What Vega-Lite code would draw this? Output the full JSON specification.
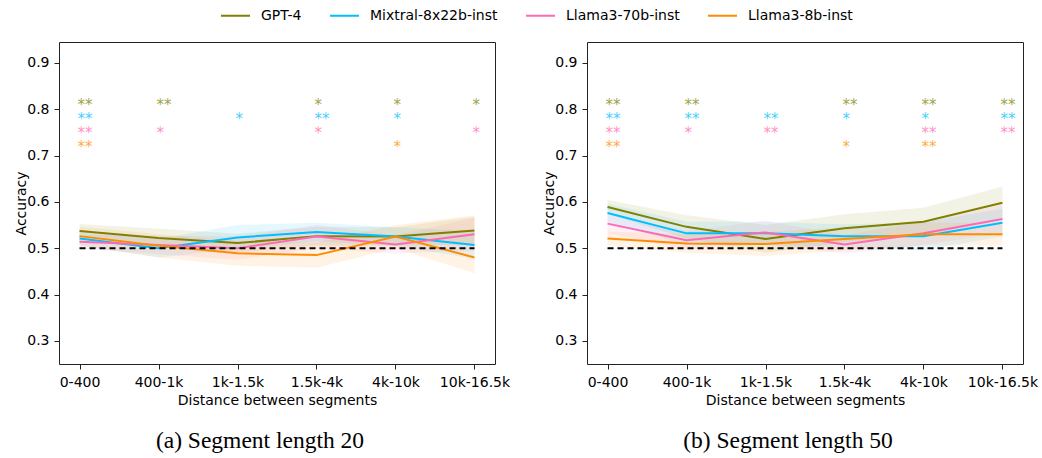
{
  "$schema": "https://vega.github.io/schema/vega-lite/v6.json",
  "background": "white",
  "padding": {"left": 14, "top": 0, "right": 5, "bottom": 0},
  "config": {
    "font": "DejaVu Sans",
    "view": {"stroke": "#222", "strokeWidth": 1},
    "axis": {"grid": false, "labelFontSize": 14, "titleFontSize": 14, "titleFontWeight": "normal", "labelColor": "#000", "titleColor": "#000", "domain": false, "tickColor": "#222", "tickSize": 5},
    "axisY": {"labelPadding": 5, "titlePadding": -2},
    "axisX": {"labelPadding": 6, "titlePadding": 4},
    "title": {"font": "Liberation Serif", "fontSize": 23.5, "fontWeight": "normal", "color": "#000", "orient": "bottom", "offset": 22, "dx": -17}
  },
  "datasets": {
    "lines": [
      {"panel":"a","model":"GPT-4","dist":"0-400","acc":0.537,"lo":0.522,"hi":0.552},
      {"panel":"a","model":"GPT-4","dist":"400-1k","acc":0.522,"lo":0.502,"hi":0.542},
      {"panel":"a","model":"GPT-4","dist":"1k-1.5k","acc":0.511,"lo":0.491,"hi":0.531},
      {"panel":"a","model":"GPT-4","dist":"1.5k-4k","acc":0.526,"lo":0.506,"hi":0.546},
      {"panel":"a","model":"GPT-4","dist":"4k-10k","acc":0.525,"lo":0.505,"hi":0.545},
      {"panel":"a","model":"GPT-4","dist":"10k-16.5k","acc":0.538,"lo":0.508,"hi":0.568},
      {"panel":"a","model":"Mixtral-8x22b-inst","dist":"0-400","acc":0.521,"lo":0.506,"hi":0.536},
      {"panel":"a","model":"Mixtral-8x22b-inst","dist":"400-1k","acc":0.500,"lo":0.480,"hi":0.520},
      {"panel":"a","model":"Mixtral-8x22b-inst","dist":"1k-1.5k","acc":0.523,"lo":0.498,"hi":0.550},
      {"panel":"a","model":"Mixtral-8x22b-inst","dist":"1.5k-4k","acc":0.535,"lo":0.515,"hi":0.555},
      {"panel":"a","model":"Mixtral-8x22b-inst","dist":"4k-10k","acc":0.525,"lo":0.505,"hi":0.545},
      {"panel":"a","model":"Mixtral-8x22b-inst","dist":"10k-16.5k","acc":0.507,"lo":0.477,"hi":0.537},
      {"panel":"a","model":"Llama3-70b-inst","dist":"0-400","acc":0.514,"lo":0.499,"hi":0.529},
      {"panel":"a","model":"Llama3-70b-inst","dist":"400-1k","acc":0.507,"lo":0.487,"hi":0.527},
      {"panel":"a","model":"Llama3-70b-inst","dist":"1k-1.5k","acc":0.500,"lo":0.475,"hi":0.525},
      {"panel":"a","model":"Llama3-70b-inst","dist":"1.5k-4k","acc":0.525,"lo":0.500,"hi":0.550},
      {"panel":"a","model":"Llama3-70b-inst","dist":"4k-10k","acc":0.508,"lo":0.488,"hi":0.528},
      {"panel":"a","model":"Llama3-70b-inst","dist":"10k-16.5k","acc":0.530,"lo":0.495,"hi":0.565},
      {"panel":"a","model":"Llama3-8b-inst","dist":"0-400","acc":0.526,"lo":0.506,"hi":0.546},
      {"panel":"a","model":"Llama3-8b-inst","dist":"400-1k","acc":0.505,"lo":0.480,"hi":0.530},
      {"panel":"a","model":"Llama3-8b-inst","dist":"1k-1.5k","acc":0.489,"lo":0.462,"hi":0.516},
      {"panel":"a","model":"Llama3-8b-inst","dist":"1.5k-4k","acc":0.485,"lo":0.458,"hi":0.512},
      {"panel":"a","model":"Llama3-8b-inst","dist":"4k-10k","acc":0.525,"lo":0.500,"hi":0.550},
      {"panel":"a","model":"Llama3-8b-inst","dist":"10k-16.5k","acc":0.480,"lo":0.446,"hi":0.571},
      {"panel":"b","model":"GPT-4","dist":"0-400","acc":0.589,"lo":0.574,"hi":0.604},
      {"panel":"b","model":"GPT-4","dist":"400-1k","acc":0.546,"lo":0.521,"hi":0.571},
      {"panel":"b","model":"GPT-4","dist":"1k-1.5k","acc":0.520,"lo":0.490,"hi":0.550},
      {"panel":"b","model":"GPT-4","dist":"1.5k-4k","acc":0.543,"lo":0.513,"hi":0.573},
      {"panel":"b","model":"GPT-4","dist":"4k-10k","acc":0.557,"lo":0.527,"hi":0.587},
      {"panel":"b","model":"GPT-4","dist":"10k-16.5k","acc":0.598,"lo":0.563,"hi":0.633},
      {"panel":"b","model":"Mixtral-8x22b-inst","dist":"0-400","acc":0.576,"lo":0.556,"hi":0.596},
      {"panel":"b","model":"Mixtral-8x22b-inst","dist":"400-1k","acc":0.532,"lo":0.507,"hi":0.557},
      {"panel":"b","model":"Mixtral-8x22b-inst","dist":"1k-1.5k","acc":0.532,"lo":0.507,"hi":0.557},
      {"panel":"b","model":"Mixtral-8x22b-inst","dist":"1.5k-4k","acc":0.526,"lo":0.501,"hi":0.551},
      {"panel":"b","model":"Mixtral-8x22b-inst","dist":"4k-10k","acc":0.526,"lo":0.496,"hi":0.556},
      {"panel":"b","model":"Mixtral-8x22b-inst","dist":"10k-16.5k","acc":0.555,"lo":0.525,"hi":0.585},
      {"panel":"b","model":"Llama3-70b-inst","dist":"0-400","acc":0.553,"lo":0.533,"hi":0.573},
      {"panel":"b","model":"Llama3-70b-inst","dist":"400-1k","acc":0.517,"lo":0.497,"hi":0.537},
      {"panel":"b","model":"Llama3-70b-inst","dist":"1k-1.5k","acc":0.534,"lo":0.509,"hi":0.559},
      {"panel":"b","model":"Llama3-70b-inst","dist":"1.5k-4k","acc":0.508,"lo":0.488,"hi":0.528},
      {"panel":"b","model":"Llama3-70b-inst","dist":"4k-10k","acc":0.532,"lo":0.507,"hi":0.557},
      {"panel":"b","model":"Llama3-70b-inst","dist":"10k-16.5k","acc":0.563,"lo":0.533,"hi":0.593},
      {"panel":"b","model":"Llama3-8b-inst","dist":"0-400","acc":0.521,"lo":0.506,"hi":0.536},
      {"panel":"b","model":"Llama3-8b-inst","dist":"400-1k","acc":0.510,"lo":0.490,"hi":0.530},
      {"panel":"b","model":"Llama3-8b-inst","dist":"1k-1.5k","acc":0.509,"lo":0.483,"hi":0.535},
      {"panel":"b","model":"Llama3-8b-inst","dist":"1.5k-4k","acc":0.520,"lo":0.495,"hi":0.545},
      {"panel":"b","model":"Llama3-8b-inst","dist":"4k-10k","acc":0.530,"lo":0.505,"hi":0.555},
      {"panel":"b","model":"Llama3-8b-inst","dist":"10k-16.5k","acc":0.530,"lo":0.505,"hi":0.555}
    ],
    "stars": [
      {"panel":"a","model":"GPT-4","dist":"0-400","stars":"**"},
      {"panel":"a","model":"Mixtral-8x22b-inst","dist":"0-400","stars":"**"},
      {"panel":"a","model":"Llama3-70b-inst","dist":"0-400","stars":"**"},
      {"panel":"a","model":"Llama3-8b-inst","dist":"0-400","stars":"**"},
      {"panel":"a","model":"GPT-4","dist":"400-1k","stars":"**"},
      {"panel":"a","model":"Llama3-70b-inst","dist":"400-1k","stars":"*"},
      {"panel":"a","model":"Mixtral-8x22b-inst","dist":"1k-1.5k","stars":"*"},
      {"panel":"a","model":"GPT-4","dist":"1.5k-4k","stars":"*"},
      {"panel":"a","model":"Mixtral-8x22b-inst","dist":"1.5k-4k","stars":"**"},
      {"panel":"a","model":"Llama3-70b-inst","dist":"1.5k-4k","stars":"*"},
      {"panel":"a","model":"GPT-4","dist":"4k-10k","stars":"*"},
      {"panel":"a","model":"Mixtral-8x22b-inst","dist":"4k-10k","stars":"*"},
      {"panel":"a","model":"Llama3-8b-inst","dist":"4k-10k","stars":"*"},
      {"panel":"a","model":"GPT-4","dist":"10k-16.5k","stars":"*"},
      {"panel":"a","model":"Llama3-70b-inst","dist":"10k-16.5k","stars":"*"},
      {"panel":"b","model":"GPT-4","dist":"0-400","stars":"**"},
      {"panel":"b","model":"Mixtral-8x22b-inst","dist":"0-400","stars":"**"},
      {"panel":"b","model":"Llama3-70b-inst","dist":"0-400","stars":"**"},
      {"panel":"b","model":"Llama3-8b-inst","dist":"0-400","stars":"**"},
      {"panel":"b","model":"GPT-4","dist":"400-1k","stars":"**"},
      {"panel":"b","model":"Mixtral-8x22b-inst","dist":"400-1k","stars":"**"},
      {"panel":"b","model":"Llama3-70b-inst","dist":"400-1k","stars":"*"},
      {"panel":"b","model":"Mixtral-8x22b-inst","dist":"1k-1.5k","stars":"**"},
      {"panel":"b","model":"Llama3-70b-inst","dist":"1k-1.5k","stars":"**"},
      {"panel":"b","model":"GPT-4","dist":"1.5k-4k","stars":"**"},
      {"panel":"b","model":"Mixtral-8x22b-inst","dist":"1.5k-4k","stars":"*"},
      {"panel":"b","model":"Llama3-8b-inst","dist":"1.5k-4k","stars":"*"},
      {"panel":"b","model":"GPT-4","dist":"4k-10k","stars":"**"},
      {"panel":"b","model":"Mixtral-8x22b-inst","dist":"4k-10k","stars":"*"},
      {"panel":"b","model":"Llama3-70b-inst","dist":"4k-10k","stars":"**"},
      {"panel":"b","model":"Llama3-8b-inst","dist":"4k-10k","stars":"**"},
      {"panel":"b","model":"GPT-4","dist":"10k-16.5k","stars":"**"},
      {"panel":"b","model":"Mixtral-8x22b-inst","dist":"10k-16.5k","stars":"**"},
      {"panel":"b","model":"Llama3-70b-inst","dist":"10k-16.5k","stars":"**"}
    ]
  },
  "spacing": 31,
  "resolve": {"scale": {"color": "shared"}},
  "hconcat": [
    {
      "title": {"text": "(a) Segment length 20"},
      "width": 436,
      "height": 322,
      "resolve": {"scale": {"y": "independent"}},
      "layer": [
        {
          "layer": [
            {
              "data": {"name": "lines"},
              "transform": [{"filter": "datum.panel === 'a'"}],
              "mark": {"type": "area", "fillOpacity": 0.1},
              "encoding": {
                "x": {"field": "dist", "type": "ordinal", "sort": ["0-400","400-1k","1k-1.5k","1.5k-4k","4k-10k","10k-16.5k"], "scale": {"type": "point", "padding": 0.26}, "axis": {"title": "Distance between segments", "labelAngle": 0}},
                "y": {"field": "lo", "type": "quantitative", "scale": {"domain": [0.25, 0.945], "nice": false, "zero": false}, "axis": {"title": "Accuracy", "values": [0.3,0.4,0.5,0.6,0.7,0.8,0.9], "format": ".1f"}},
                "y2": {"field": "hi"},
                "color": {"field": "model", "type": "nominal", "scale": {"domain": ["GPT-4","Mixtral-8x22b-inst","Llama3-70b-inst","Llama3-8b-inst"], "range": ["#808000","#00BFFF","#FF69B4","#FF8C00"]}}
              }
            },
            {
              "data": {"name": "lines"},
              "transform": [{"filter": "datum.panel === 'a'"}],
              "mark": {"type": "line", "strokeWidth": 2},
              "encoding": {
                "x": {"field": "dist", "type": "ordinal", "sort": ["0-400","400-1k","1k-1.5k","1.5k-4k","4k-10k","10k-16.5k"]},
                "y": {"field": "acc", "type": "quantitative"},
                "color": {"field": "model", "type": "nominal", "legend": {"symbolType": "stroke", "symbolStrokeWidth": 2, "symbolSize": 841, "direction": "horizontal", "orient": "none", "legendX": 161, "legendY": -42, "title": null, "columns": 4, "columnPadding": 24, "labelOffset": 10, "labelFontSize": 14, "labelColor": "#000", "padding": 0, "encode": {"symbols": {"update": {"opacity": {"value": 1}, "strokeOpacity": {"value": 1}, "fillOpacity": {"value": 0}}}}}}
              }
            },
            {
              "data": {"values": [{}]},
              "mark": {"type": "rule", "color": "#000", "strokeWidth": 2, "strokeDash": [6, 4]},
              "encoding": {
                "x": {"datum": "0-400", "type": "ordinal"},
                "x2": {"datum": "10k-16.5k"},
                "y": {"datum": 0.5, "type": "quantitative"}
              }
            }
          ]
        },
        {
          "data": {"name": "stars"},
          "transform": [{"filter": "datum.panel === 'a'"}],
          "mark": {"type": "text", "align": "left", "baseline": "alphabetic", "dx": -2, "dy": 8, "fontSize": 15, "fillOpacity": 0.75},
          "encoding": {
            "x": {"field": "dist", "type": "ordinal", "sort": ["0-400","400-1k","1k-1.5k","1.5k-4k","4k-10k","10k-16.5k"]},
            "y": {"field": "model", "type": "ordinal", "sort": ["GPT-4","Mixtral-8x22b-inst","Llama3-70b-inst","Llama3-8b-inst"], "scale": {"type": "point", "range": [60, 102], "padding": 0}, "axis": null},
            "text": {"field": "stars"},
            "color": {"field": "model", "type": "nominal"}
          }
        }
      ]
    },
    {
      "title": {"text": "(b) Segment length 50"},
      "width": 436,
      "height": 322,
      "resolve": {"scale": {"y": "independent"}},
      "layer": [
        {
          "layer": [
            {
              "data": {"name": "lines"},
              "transform": [{"filter": "datum.panel === 'b'"}],
              "mark": {"type": "area", "fillOpacity": 0.1},
              "encoding": {
                "x": {"field": "dist", "type": "ordinal", "sort": ["0-400","400-1k","1k-1.5k","1.5k-4k","4k-10k","10k-16.5k"], "scale": {"type": "point", "padding": 0.26}, "axis": {"title": "Distance between segments", "labelAngle": 0}},
                "y": {"field": "lo", "type": "quantitative", "scale": {"domain": [0.25, 0.945], "nice": false, "zero": false}, "axis": {"title": "Accuracy", "values": [0.3,0.4,0.5,0.6,0.7,0.8,0.9], "format": ".1f"}},
                "y2": {"field": "hi"},
                "color": {"field": "model", "type": "nominal"}
              }
            },
            {
              "data": {"name": "lines"},
              "transform": [{"filter": "datum.panel === 'b'"}],
              "mark": {"type": "line", "strokeWidth": 2},
              "encoding": {
                "x": {"field": "dist", "type": "ordinal", "sort": ["0-400","400-1k","1k-1.5k","1.5k-4k","4k-10k","10k-16.5k"]},
                "y": {"field": "acc", "type": "quantitative"},
                "color": {"field": "model", "type": "nominal"}
              }
            },
            {
              "data": {"values": [{}]},
              "mark": {"type": "rule", "color": "#000", "strokeWidth": 2, "strokeDash": [6, 4]},
              "encoding": {
                "x": {"datum": "0-400", "type": "ordinal"},
                "x2": {"datum": "10k-16.5k"},
                "y": {"datum": 0.5, "type": "quantitative"}
              }
            }
          ]
        },
        {
          "data": {"name": "stars"},
          "transform": [{"filter": "datum.panel === 'b'"}],
          "mark": {"type": "text", "align": "left", "baseline": "alphabetic", "dx": -2, "dy": 8, "fontSize": 15, "fillOpacity": 0.75},
          "encoding": {
            "x": {"field": "dist", "type": "ordinal", "sort": ["0-400","400-1k","1k-1.5k","1.5k-4k","4k-10k","10k-16.5k"]},
            "y": {"field": "model", "type": "ordinal", "sort": ["GPT-4","Mixtral-8x22b-inst","Llama3-70b-inst","Llama3-8b-inst"], "scale": {"type": "point", "range": [60, 102], "padding": 0}, "axis": null},
            "text": {"field": "stars"},
            "color": {"field": "model", "type": "nominal"}
          }
        }
      ]
    }
  ]
}
